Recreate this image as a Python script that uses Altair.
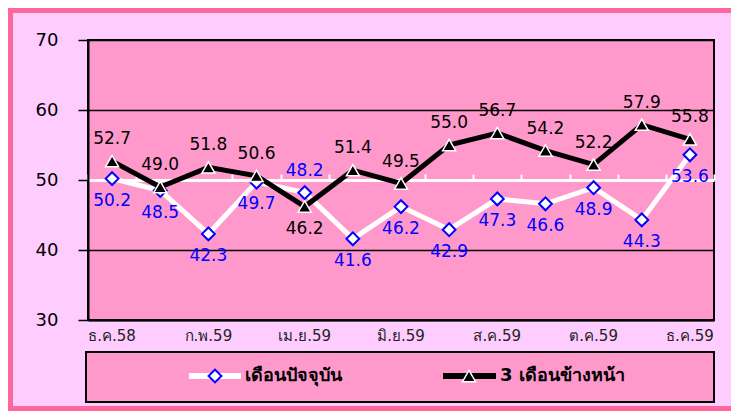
import altair as alt
import pandas as pd

# ---- data ----
months = ["ธ.ค.58", "ม.ค.59", "ก.พ.59", "มี.ค.59", "เม.ย.59", "พ.ค.59", "มิ.ย.59",
          "ก.ค.59", "ส.ค.59", "ก.ย.59", "ต.ค.59", "พ.ย.59", "ธ.ค.59"]
current = [50.2, 48.5, 42.3, 49.7, 48.2, 41.6, 46.2, 42.9, 47.3, 46.6, 48.9, 44.3, 53.6]
ahead = [52.7, 49.0, 51.8, 50.6, 46.2, 51.4, 49.5, 55.0, 56.7, 54.2, 52.2, 57.9, 55.8]
series_names = ["เดือนปัจจุบัน", "3 เดือนข้างหน้า"]
shown_month_labels = ["ธ.ค.58", "ก.พ.59", "เม.ย.59", "มิ.ย.59", "ส.ค.59", "ต.ค.59", "ธ.ค.59"]
y_ticks = [30, 40, 50, 60, 70]

# label placement (style, not data)
current_label_side = ["below"] * 13
current_label_side[4] = "above"
ahead_label_side = ["above"] * 13
ahead_label_side[4] = "below"

df_cur = pd.DataFrame({"month": months, "value": current, "side": current_label_side})
df_fut = pd.DataFrame({"month": months, "value": ahead, "side": ahead_label_side})

W, H = 626, 280
PAD = {"left": 80, "top": 32, "right": 17, "bottom": 91}

PINK_BG = "#FFCCFF"
PLOT_BG = "#FF99CC"
BORDER = "#FF6699"
BLUE = "#0000FF"
FONT = "DejaVu Sans"

xscale = alt.Scale(type="band", domain=months, paddingInner=0, paddingOuter=0)
yenc = alt.Y(
    "value:Q",
    scale=alt.Scale(domain=[30, 70], nice=False, zero=False),
    axis=alt.Axis(values=y_ticks, title=None, grid=True, gridColor="black", gridWidth=1.3,
                  domainColor="black", domainWidth=2, tickColor="black", tickSize=10,
                  tickWidth=1.5, labelFontSize=18, labelPadding=20, labelFont=FONT,
                  labelColor="black"),
)

x_bottom = alt.X("month:N", sort=months, scale=xscale,
                 axis=alt.Axis(orient="bottom", values=shown_month_labels, ticks=False,
                               domainColor="black", domainWidth=2, labelFontSize=15,
                               labelPadding=8, labelAngle=0, title=None, grid=False,
                               labelColor="#222222", labelFont=FONT))
x_mid = alt.X("month:N", sort=months, scale=xscale,
              axis=alt.Axis(orient="top", offset=-140, domainColor="white", domainWidth=3,
                            tickColor="white", tickWidth=2, tickSize=6, tickBand="extent",
                            labels=False, title=None, grid=False))
x_none = alt.X("month:N", sort=months, scale=xscale, axis=None)

one = pd.DataFrame({"a": [0]})

border = alt.Chart(one).mark_rect(fillOpacity=0, stroke=BORDER, strokeWidth=5).encode(
    x=alt.value(-77.5), x2=alt.value(W + 40), y=alt.value(-29.5), y2=alt.value(H + PAD["bottom"] - 2.5))

legend_box = alt.Chart(one).mark_rect(fill=PLOT_BG, stroke="black", strokeWidth=2).encode(
    x=alt.value(-2), x2=alt.value(W), y=alt.value(312), y2=alt.value(362))

cur_line = alt.Chart(df_cur).mark_line(color="white", strokeWidth=5).encode(x=x_bottom, y=yenc)
cur_pts = alt.Chart(df_cur).mark_point(shape="diamond", size=165, filled=True, fill="white",
                                       stroke=BLUE, strokeWidth=2, opacity=1).encode(x=x_none, y=yenc)
fut_line = alt.Chart(df_fut).mark_line(color="black", strokeWidth=5).encode(x=x_mid, y=yenc)
fut_pts = alt.Chart(df_fut).mark_point(shape="triangle-up", size=170, filled=True, fill="black",
                                       stroke="white", strokeWidth=1.5, opacity=1).encode(x=x_none, y=yenc)

def labels(df, side, color, dy):
    return alt.Chart(df).transform_filter(alt.datum.side == side).mark_text(
        font=FONT, fontSize=17, color=color, dy=dy, baseline="middle").encode(
        x=x_none, y=yenc, text=alt.Text("value:Q", format=".1f"))

cur_below = labels(df_cur, "below", BLUE, 22)
cur_above = labels(df_cur, "above", BLUE, -22)
fut_above = labels(df_fut, "above", "black", -22)
fut_below = labels(df_fut, "below", "black", 22)

LY = 336
leg1_line = alt.Chart(one).mark_rule(color="white", strokeWidth=6).encode(
    x=alt.value(101), x2=alt.value(153), y=alt.value(LY))
leg1_pt = alt.Chart(one).mark_point(shape="diamond", size=165, filled=True, fill="white",
                                    stroke=BLUE, strokeWidth=2, opacity=1).encode(
    x=alt.value(127), y=alt.value(LY))
leg1_txt = alt.Chart(one).mark_text(text=series_names[0], align="left", baseline="middle",
                                    fontSize=18, fontWeight="bold", color="black", font=FONT).encode(
    x=alt.value(157), y=alt.value(LY))
leg2_line = alt.Chart(one).mark_rule(color="black", strokeWidth=6).encode(
    x=alt.value(355), x2=alt.value(408), y=alt.value(LY))
leg2_pt = alt.Chart(one).mark_point(shape="triangle-up", size=170, filled=True, fill="black",
                                    stroke="white", strokeWidth=1.5, opacity=1).encode(
    x=alt.value(381), y=alt.value(LY))
leg2_txt = alt.Chart(one).mark_text(text=series_names[1], align="left", baseline="middle",
                                    fontSize=18, fontWeight="bold", color="black", font=FONT).encode(
    x=alt.value(412), y=alt.value(LY))

chart = alt.layer(
    border, legend_box,
    cur_line, cur_pts, fut_line, fut_pts,
    cur_below, cur_above, fut_above, fut_below,
    leg1_line, leg1_pt, leg1_txt, leg2_line, leg2_pt, leg2_txt,
).resolve_axis(x="independent").properties(
    width=W, height=H, padding=PAD, autosize=alt.AutoSizeParams(type="none"),
    background=PINK_BG,
).configure_view(fill=PLOT_BG, stroke="black", strokeWidth=2)

chart.save("out.html", embed_options={"renderer": "svg", "actions": False})
